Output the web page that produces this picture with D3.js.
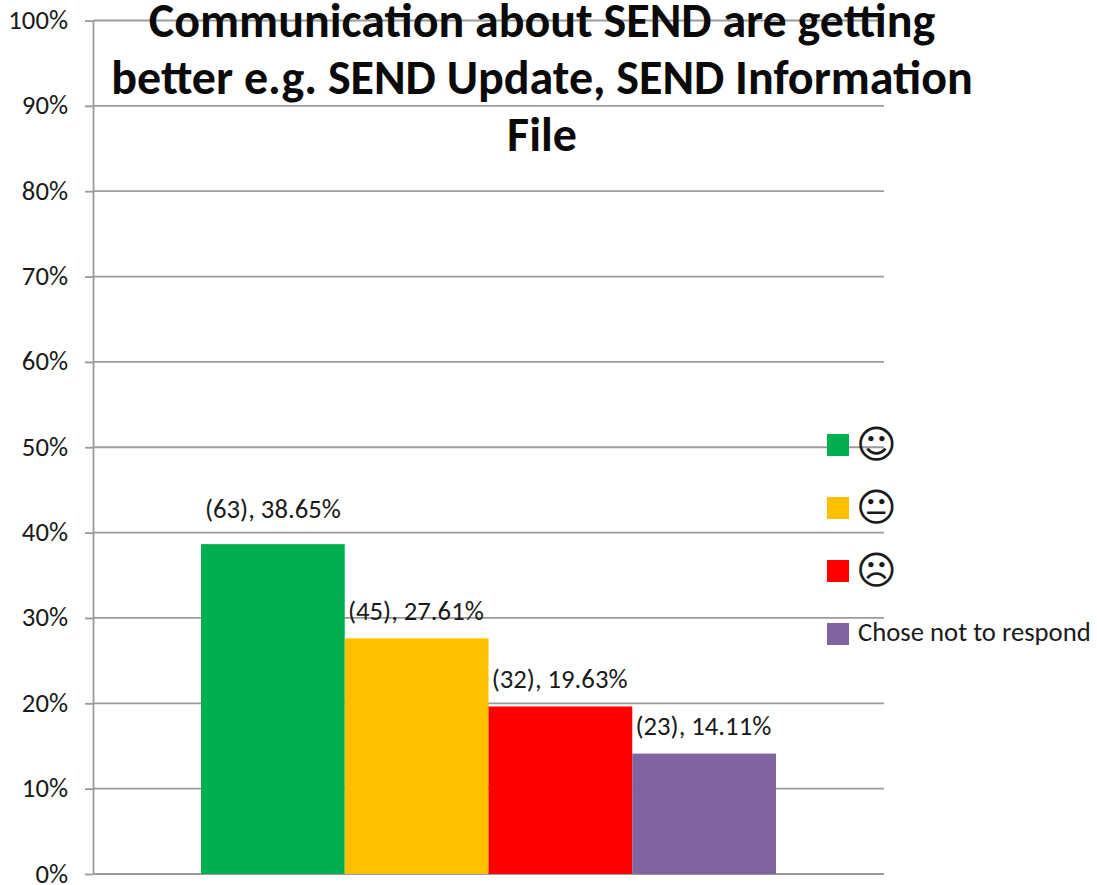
<!DOCTYPE html>
<html><head><meta charset="utf-8">
<script src="https://d3js.org/d3.v7.min.js"></script>
<style>html,body{margin:0;padding:0;background:#fff}svg{display:block}text{font-family:Carlito,Calibri,Lato,sans-serif;fill:#1a1a1a}</style>
</head><body><svg id="c" width="1097" height="885"></svg>
<script>
const categories=["☺","😐","☹","Chose not to respond"];
const counts=[63,45,32,23];
const percents=[38.65,27.61,19.63,14.11];
const colors=["#00b050","#ffc000","#ff0000","#8064a2"];
const yTicks=[0,10,20,30,40,50,60,70,80,90,100];
const titleLines=["Communication about SEND are getting","better e.g. SEND Update, SEND Information","File"];

const svg=d3.select("#c");
const y=d3.scaleLinear().domain([0,100]).range([874,20.5]);
const x=d3.scaleBand().domain(categories).range([201,776]).padding(0);

const axis=svg.append("g").attr("transform","translate(93.5,0)")
 .call(d3.axisLeft(y).tickValues(yTicks).tickSize(8.5).tickPadding(17).tickFormat(d=>d+"%"));
axis.select(".domain").attr("stroke","#9b9b9b").attr("stroke-width",1.8).attr("d","M0,20.5V874");
axis.selectAll("text").attr("font-size",26.7).attr("font-family","Lato,sans-serif").attr("fill","#1a1a1a").attr("dy","0.3em");
axis.selectAll("line").attr("stroke","#9b9b9b").attr("stroke-width",1.8);

svg.append("g").selectAll("line").data(yTicks).join("line")
 .attr("x1",93.5).attr("x2",884).attr("y1",d=>y(d)).attr("y2",d=>y(d))
 .attr("stroke","#9b9b9b").attr("stroke-width",1.8);

svg.append("g").selectAll("rect").data(categories).join("rect")
 .attr("x",d=>x(d)).attr("width",x.bandwidth())
 .attr("y",(d,i)=>y(percents[i])).attr("height",(d,i)=>y(0)-y(percents[i]))
 .attr("fill",(d,i)=>colors[i]);

svg.append("g").selectAll("text").data(categories).join("text")
 .attr("x",(d,i)=>x(d)+x.bandwidth()/2-(i==0?0:0.8))
 .attr("y",(d,i)=>y(percents[i])-(i==0?26:i==3?19:18))
 .attr("text-anchor","middle").attr("font-size",26.7)
 .text((d,i)=>`(${counts[i]}), ${percents[i].toFixed(2)}%`);

const legY=d3.scalePoint().domain(categories).range([445,634]);
const leg=svg.append("g").selectAll("g").data(categories).join("g")
 .attr("transform",d=>`translate(827,${legY(d)})`);
leg.append("rect").attr("y",-11).attr("width",22).attr("height",22).attr("fill",(d,i)=>colors[i]);
leg.append("text").attr("x",(d,i)=>i<3?29:31).attr("y",(d,i)=>i<3?12.5:7)
 .attr("font-size",(d,i)=>i<3?39:26.7)
 .style("font-family",(d,i)=>i<3?"'DejaVu Sans'":null)
 .text(d=>d);

svg.append("g").selectAll("text").data(titleLines).join("text")
 .attr("x",542).attr("y",(d,i)=>37+i*57)
 .attr("text-anchor","middle").attr("font-size",48).attr("font-weight",700)
 .style("fill","#0a0a0a").text(d=>d);
</script></body></html>
